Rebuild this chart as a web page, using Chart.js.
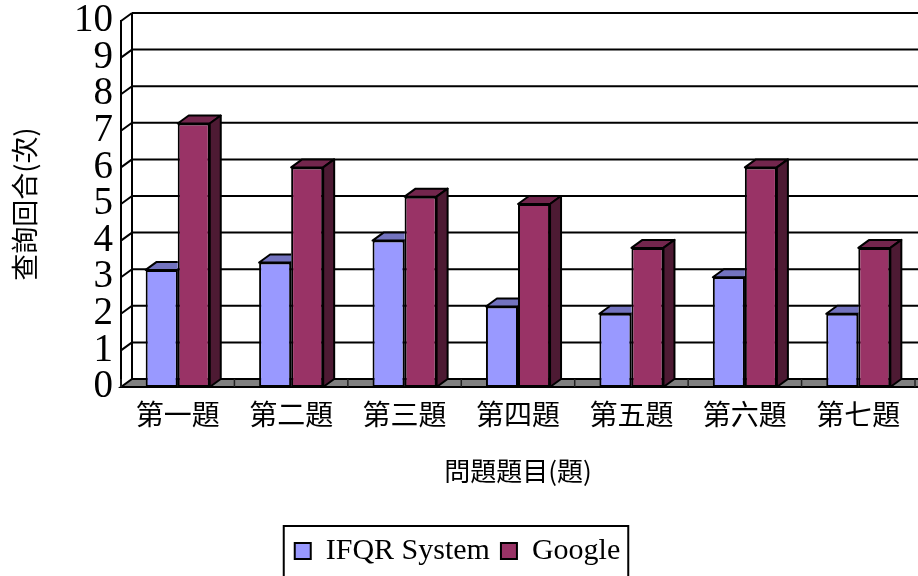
<!DOCTYPE html>
<html lang="zh-Hant">
<head>
<meta charset="UTF-8">
<title>查詢回合</title>
<script src="https://cdn.jsdelivr.net/npm/chart.js@4.4.0/dist/chart.umd.min.js"></script>
<style>
  html, body { margin: 0; padding: 0; background: #ffffff; }
  #wrap { width: 918px; height: 576px; }
</style>
</head>
<body>
<div id="wrap"><canvas id="chart" width="918" height="576"></canvas></div>
<script>
/* ---------- data ---------- */
const questions = ['第一題', '第二題', '第三題', '第四題', '第五題', '第六題', '第七題'];
const ifqrRounds = [3.2, 3.4, 4.0, 2.2, 2.0, 3.0, 2.0];
const googleRounds = [7.2, 6.0, 5.2, 5.0, 3.8, 6.0, 3.8];
const seriesNames = ['IFQR System', 'Google'];

/* ---------- look ---------- */
const DX = 11, DY = -8;              // depth of the fake 3d
const frontColors = ['#9999FF', '#993366'];
const topColors = ['#7373BF', '#73264D'];
const sideColors = ['#4D4D80', '#4D1A33'];
const cjk = '"Noto Sans CJK TC", sans-serif';
const serif = '"Liberation Serif", "Times New Roman", serif';

/* ---------- walls, floor, gridlines (behind the bars) ---------- */
const depthWalls = {
  id: 'depthWalls',
  beforeDatasetsDraw(chart) {
    const {ctx, chartArea: a, scales: {x, y}} = chart;
    const y0 = y.getPixelForValue(0);
    const yTop = y.getPixelForValue(10);
    const rightEdge = chart.width;
    ctx.save();
    ctx.strokeStyle = '#000';
    ctx.lineWidth = 2;
    // back wall gridlines + small diagonals to the front axis
    for (let v = 1; v <= 10; v++) {
      const py = y.getPixelForValue(v);
      ctx.beginPath();
      ctx.moveTo(a.left + DX, py + DY);
      ctx.lineTo(rightEdge, py + DY);
      ctx.moveTo(a.left, py);
      ctx.lineTo(a.left + DX, py + DY);
      ctx.stroke();
    }
    // back wall left edge
    ctx.beginPath();
    ctx.moveTo(a.left + DX, yTop + DY);
    ctx.lineTo(a.left + DX, y0 + DY);
    ctx.stroke();
    // floor
    ctx.beginPath();
    ctx.moveTo(a.left, y0);
    ctx.lineTo(rightEdge + 20, y0);
    ctx.lineTo(rightEdge + 20 + DX, y0 + DY);
    ctx.lineTo(a.left + DX, y0 + DY);
    ctx.closePath();
    ctx.fillStyle = '#808080';
    ctx.fill();
    ctx.stroke();
    // floor tiles at category borders
    const step = x.getPixelForValue(1) - x.getPixelForValue(0);
    ctx.lineWidth = 1.5;
    ctx.strokeStyle = '#222';
    for (let i = 0; i <= questions.length; i++) {
      const bx = x.getPixelForValue(0) - step / 2 + i * step;
      ctx.beginPath();
      ctx.moveTo(bx, y0);
      ctx.lineTo(bx, y0 + DY);
      ctx.stroke();
    }
    ctx.restore();
  },
  afterDatasetsDraw(chart) {
    const {ctx} = chart;
    const bars = [];
    chart.data.datasets.forEach((ds, di) => {
      chart.getDatasetMeta(di).data.forEach(el => {
        const p = el.getProps(['x', 'y', 'base', 'width'], true);
        bars.push({di, x0: p.x - p.width / 2, x1: p.x + p.width / 2, top: p.y, base: p.base});
      });
    });
    bars.forEach(b => {
      ctx.save();
      // keep the other bars' front faces in front
      ctx.beginPath();
      ctx.rect(0, 0, chart.width, chart.height);
      bars.forEach(o => {
        if (o !== b) ctx.rect(o.x0, o.top, o.x1 - o.x0, o.base - o.top);
      });
      ctx.clip('evenodd');
      ctx.strokeStyle = '#000';
      ctx.lineWidth = 2;
      ctx.lineJoin = 'round';
      // top face
      ctx.beginPath();
      ctx.moveTo(b.x0, b.top);
      ctx.lineTo(b.x1, b.top);
      ctx.lineTo(b.x1 + DX, b.top + DY);
      ctx.lineTo(b.x0 + DX, b.top + DY);
      ctx.closePath();
      ctx.fillStyle = topColors[b.di];
      ctx.fill();
      ctx.stroke();
      // side face
      ctx.beginPath();
      ctx.moveTo(b.x1, b.top);
      ctx.lineTo(b.x1 + DX, b.top + DY);
      ctx.lineTo(b.x1 + DX, b.base + DY);
      ctx.lineTo(b.x1, b.base);
      ctx.closePath();
      ctx.fillStyle = sideColors[b.di];
      ctx.fill();
      ctx.stroke();
      ctx.restore();
    });
  }
};

/* ---------- frame round the legend ---------- */
const legendFrame = {
  id: 'legendFrame',
  afterDraw(chart) {
    const boxes = chart.legend.legendHitBoxes;
    if (!boxes || !boxes.length) return;
    const left = Math.min(...boxes.map(b => b.left)) - 11;
    const right = Math.max(...boxes.map(b => b.left + b.width)) + 8;
    const top = Math.min(...boxes.map(b => b.top)) - 10;
    const {ctx} = chart;
    ctx.save();
    ctx.strokeStyle = '#000';
    ctx.lineWidth = 2;
    ctx.strokeRect(left, top, right - left, chart.height - top + 4);
    ctx.restore();
  }
};

new Chart(document.getElementById('chart'), {
  type: 'bar',
  plugins: [depthWalls, legendFrame],
  data: {
    labels: questions,
    datasets: [
      {
        label: seriesNames[0],
        data: ifqrRounds,
        backgroundColor: frontColors[0],
        borderColor: '#000',
        borderWidth: 2,
        borderSkipped: false
      },
      {
        label: seriesNames[1],
        data: googleRounds,
        backgroundColor: frontColors[1],
        borderColor: '#000',
        borderWidth: 2,
        borderSkipped: false
      }
    ]
  },
  options: {
    responsive: false,
    animation: false,
    layout: { padding: { top: 21, right: 3, left: 0, bottom: 0 } },
    datasets: { bar: { categoryPercentage: 0.565, barPercentage: 1.0 } },
    scales: {
      x: {
        grid: { display: false, drawTicks: false },
        border: { display: false },
        ticks: { color: '#000', font: { family: cjk, size: 28 }, padding: 11, maxRotation: 0 },
        title: {
          display: true,
          text: '問題題目(題)',
          color: '#000',
          font: { family: cjk, size: 26 },
          padding: { top: 0, bottom: 38 }
        },
        afterFit(scale) { scale.height = 138; }
      },
      y: {
        min: 0,
        max: 10,
        grid: { display: false, drawTicks: false },
        border: { display: true, color: '#000', width: 2 },
        ticks: {
          stepSize: 1,
          autoSkip: false,
          color: '#000',
          font: { family: serif, size: 39, lineHeight: 0.6 },
          padding: 8
        },
        title: {
          display: true,
          text: '查詢回合(次)',
          color: '#000',
          font: { family: cjk, size: 27 },
          padding: { top: 9, bottom: 0 }
        },
        afterFit(scale) { scale.width = 121; }
      }
    },
    plugins: {
      legend: {
        position: 'bottom',
        labels: {
          color: '#000',
          font: { family: serif, size: 30 },
          boxWidth: 16,
          boxHeight: 16,
          padding: 11
        }
      },
      tooltip: { enabled: false }
    }
  }
});
</script>
</body>
</html>
